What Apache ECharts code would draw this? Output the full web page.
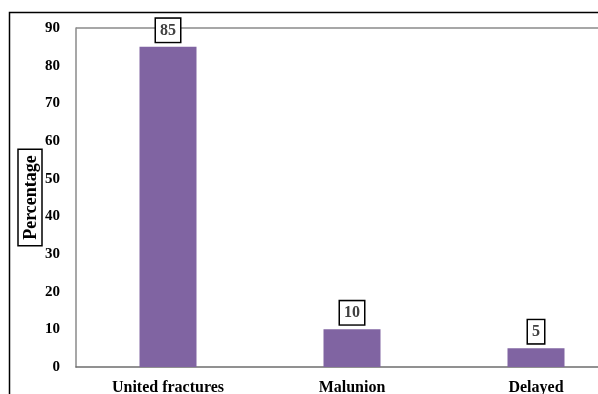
<!DOCTYPE html>
<html>
<head>
<meta charset="utf-8">
<script src="https://cdn.jsdelivr.net/npm/echarts@6/dist/echarts.min.js"></script>
<style>
  html, body { margin: 0; padding: 0; background: #fff; }
  #chart { width: 598px; height: 394px; }
</style>
</head>
<body>
<div id="chart"></div>
<script>
  var categories = ['United fractures', 'Malunion', 'Delayed'];
  var percentages = [85, 10, 5];
  var yTicks = [0, 10, 20, 30, 40, 50, 60, 70, 80, 90];

  var font = '"Liberation Serif", "Times New Roman", serif';
  var chart = echarts.init(document.getElementById('chart'));

  chart.setOption({
    animation: false,
    graphic: [{
      type: 'rect',
      shape: { x: 9.5, y: 12.5, width: 620, height: 420 },
      style: { fill: 'none', stroke: '#000', lineWidth: 1.5 },
      silent: true
    }],
    grid: {
      left: 76,
      top: 28,
      width: 552,
      height: 339,
      outerBoundsMode: 'none',
      containLabel: false
    },
    xAxis: {
      type: 'category',
      data: categories,
      axisTick: { show: false },
      axisLine: { lineStyle: { color: '#6e6e6e', width: 1.5 } },
      axisLabel: {
        color: '#000',
        fontFamily: font,
        fontWeight: 'bold',
        fontSize: 16,
        margin: 13,
        interval: 0
      }
    },
    yAxis: {
      type: 'value',
      min: yTicks[0],
      max: yTicks[yTicks.length - 1],
      interval: 10,
      name: 'Percentage',
      nameLocation: 'middle',
      nameRotate: 90,
      nameGap: 34,
      nameMoveOverlap: false,
      nameTextStyle: {
        color: '#000',
        fontFamily: font,
        fontWeight: 'bold',
        fontSize: 18,
        borderColor: '#000',
        borderWidth: 1.5,
        padding: [4, 6, 2, 6]
      },
      axisLine: { show: true, lineStyle: { color: '#8a8a8a', width: 1.5 } },
      axisTick: { show: false },
      splitLine: { show: false },
      axisLabel: {
        color: '#000',
        fontFamily: font,
        fontWeight: 'bold',
        fontSize: 15,
        margin: 16
      }
    },
    series: [{
      type: 'bar',
      data: percentages,
      barWidth: 57,
      itemStyle: { color: '#8064A2' },
      label: {
        show: true,
        position: 'top',
        distance: 5,
        color: '#404040',
        fontFamily: font,
        fontWeight: 'bold',
        fontSize: 16,
        borderColor: '#000',
        borderWidth: 1.5,
        backgroundColor: '#fff',
        padding: [4, 4, 3, 4]
      },
      markLine: {
        silent: true,
        symbol: 'none',
        label: { show: false },
        lineStyle: { color: '#8a8a8a', type: 'solid', width: 1.5 },
        data: [{ yAxis: 90 }],
        z: 1
      }
    }]
  });
</script>
</body>
</html>
